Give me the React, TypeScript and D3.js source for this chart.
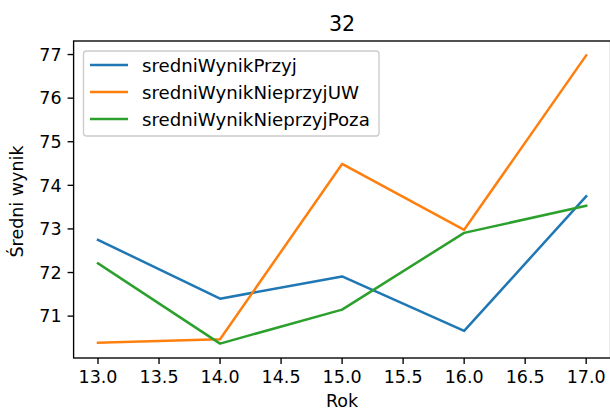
import React from "react";
import * as d3 from "d3";

const years = [13, 14, 15, 16, 17];
const seriesNames = ["sredniWynikPrzyj", "sredniWynikNieprzyjUW", "sredniWynikNieprzyjPoza"];
const przyj = [72.75, 71.4, 71.91, 70.66, 73.75];
const nieprzyjUW = [70.39, 70.47, 74.49, 72.98, 76.98];
const nieprzyjPoza = [72.21, 70.37, 71.15, 72.91, 73.53];
const colors = ["#1f77b4", "#ff7f0e", "#2ca02c"];
const xTicks = [13.0, 13.5, 14.0, 14.5, 15.0, 15.5, 16.0, 16.5, 17.0];
const yTicks = [71, 72, 73, 74, 75, 76, 77];

const W = 610, H = 409;
const L = 73.6, R = 610.6, T = 41, B = 358;
const FONT = "DejaVu Sans, sans-serif";

export default function App() {
  const all = [przyj, nieprzyjUW, nieprzyjPoza];
  const ymin = d3.min(all.flat())!, ymax = d3.max(all.flat())!;
  const ypad = (ymax - ymin) * 0.05;
  const x = d3.scaleLinear().domain([12.8, 17.2]).range([L, R]);
  const y = d3.scaleLinear().domain([ymin - ypad, ymax + ypad]).range([B, T]);
  const line = d3.line<number>().x((_, i) => x(years[i])).y((d) => y(d));
  return (
    <svg width={W} height={H} style={{ position: "absolute", left: 0, top: 0 }} fontFamily={FONT}>
      <rect width={W} height={H} fill="#fff" />
      {all.map((s, i) => (
        <path key={i} d={line(s)!} fill="none" stroke={colors[i]} strokeWidth={2.5} strokeLinejoin="round" strokeLinecap="square" />
      ))}
      <rect x={L} y={T} width={R - L} height={B - T} fill="none" stroke="#000" strokeWidth={1.36} />
      {xTicks.map((t) => (
        <g key={t}>
          <line x1={x(t)} x2={x(t)} y1={B} y2={B + 6} stroke="#000" strokeWidth={1.36} />
          <text x={x(t)} y={B + 12} dy="0.76em" textAnchor="middle" fontSize={17.5} fill="#000">{t.toFixed(1)}</text>
        </g>
      ))}
      {yTicks.map((t) => (
        <g key={t}>
          <line x1={L - 6} x2={L} y1={y(t)} y2={y(t)} stroke="#000" strokeWidth={1.36} />
          <text x={L - 12} y={y(t)} dy="0.36em" textAnchor="end" fontSize={17.5} fill="#000">{t}</text>
        </g>
      ))}
      <text x={(L + R) / 2} y={31} textAnchor="middle" fontSize={20.6} fill="#000">32</text>
      <text x={(L + R) / 2} y={407} textAnchor="middle" fontSize={17.5} fill="#000">Rok</text>
      <text transform={`translate(23,${(T + B) / 2 + 2}) rotate(-90)`} textAnchor="middle" fontSize={17.5} fill="#000">Średni wynik</text>
      <g>
        <rect x={83.5} y={51} width={295.5} height={85} rx={3} fill="#fff" fillOpacity={0.8} stroke="#ccc" strokeWidth={1.36} />
        {seriesNames.map((n, i) => (
          <g key={n}>
            <line x1={90} x2={128} y1={65 + i * 27} y2={65 + i * 27} stroke={colors[i]} strokeWidth={2.5} />
            <text x={142} y={65 + i * 27} dy="0.36em" fontSize={18.2} fill="#000">{n}</text>
          </g>
        ))}
      </g>
    </svg>
  );
}
